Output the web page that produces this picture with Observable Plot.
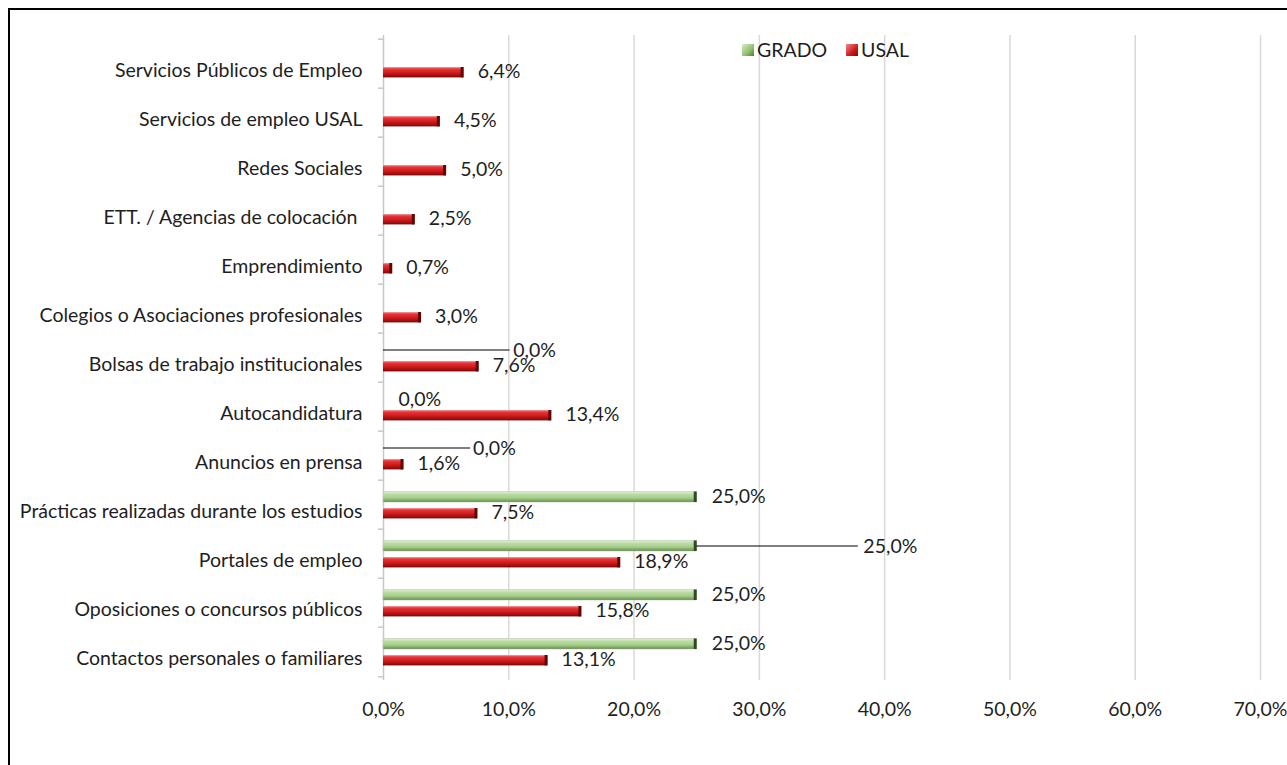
<!DOCTYPE html>
<html><head><meta charset="utf-8">
<script src="https://cdn.jsdelivr.net/npm/d3@7"></script>
<script src="https://cdn.jsdelivr.net/npm/@observablehq/plot@0.6"></script>
<style>
body{margin:0;background:#fff;overflow:hidden}
#wrap{position:relative;width:1287px;height:765px;overflow:hidden;font-family:Lato,sans-serif;background:#fff}
#frame{position:absolute;left:8px;top:8px;width:1400px;height:900px;border:2px solid #000;box-sizing:border-box}
#chart{position:absolute;left:0;top:0}
#legend{position:absolute;left:742px;top:38px;display:flex;align-items:center;font-size:19.5px;color:#1e1e1e;line-height:24px}
.sw{width:12px;height:12px;display:inline-block;margin-right:3px}
.item{display:flex;align-items:center;margin-right:19px}
</style></head><body>
<div id="wrap"><div id="frame"></div><div id="chart"></div>
<div id="legend">
  <div class="item"><span class="sw" style="background:linear-gradient(135deg,#d7ebc8,#8fbf6f 60%,#4f7a38)"></span>GRADO</div>
  <div class="item"><span class="sw" style="background:linear-gradient(135deg,#f08a8a,#d01818 60%,#7a0a0a)"></span>USAL</div>
</div>
</div>
<script>
const categories = [
  "Servicios Públicos de Empleo",
  "Servicios de empleo USAL",
  "Redes Sociales",
  "ETT. / Agencias de colocación\u00a0",
  "Emprendimiento",
  "Colegios o Asociaciones profesionales",
  "Bolsas de trabajo institucionales",
  "Autocandidatura",
  "Anuncios en prensa",
  "Prácticas realizadas durante los estudios",
  "Portales de empleo",
  "Oposiciones o concursos públicos",
  "Contactos personales o familiares"
];
const usal  = [6.4, 4.5, 5.0, 2.5, 0.7, 3.0, 7.6, 13.4, 1.6, 7.5, 18.9, 15.8, 13.1];
const grado = [null, null, null, null, null, null, 0, 0, 0, 25, 25, 25, 25];
const xTicks = [0, 10, 20, 30, 40, 50, 60, 70];

// Excel labels that were dragged away from their bars (label start, leader line end), in % units
const movedLabels = {
  "Bolsas de trabajo institucionales": {at: 10.35, line: 10.1},
  "Autocandidatura": {at: 1.2, line: null},
  "Anuncios en prensa": {at: 7.15, line: 6.95},
  "Portales de empleo": {at: 38.3, line: 37.9}
};

const fmt = d => d.toFixed(1).replace(".", ",") + "%";
const rows = categories.map((c, i) => ({cat: c, usal: usal[i], grado: grado[i]}));
const gradoRows = rows.filter(d => d.grado != null);
const gradoNormal = gradoRows.filter(d => !movedLabels[d.cat]);
const gradoMoved = gradoRows.filter(d => movedLabels[d.cat]).map(d => ({...d, ...movedLabels[d.cat]}));
const gradoLines = gradoMoved.filter(d => d.line != null);

const plotTop = 35, plotBottom = 680, H = 765;
const bw = (plotBottom - plotTop) / categories.length;

const chart = Plot.plot({
  width: 1287, height: H,
  marginLeft: 383, marginRight: 27, marginTop: plotTop, marginBottom: H - plotBottom,
  style: {fontFamily: "Lato, sans-serif", fontSize: "19.5px", color: "#1e1e1e", background: "transparent", overflow: "visible"},
  x: {domain: [0, 70], ticks: xTicks, tickFormat: fmt},
  y: {domain: categories, padding: 0},
  marks: [
    Plot.gridX(xTicks.slice(1), {stroke: "#d9d9d9", strokeOpacity: 1, strokeWidth: 1.5}),
    Plot.ruleX([0], {stroke: "#c8c8c8", strokeWidth: 1.5}),
    Plot.ruleY(categories, {y: d => d, x1: -0.4, x2: 0, dy: -bw / 2, stroke: "#c8c8c8", strokeWidth: 1.5}),
    Plot.ruleY(categories.slice(-1), {y: d => d, x1: -0.4, x2: 0, dy: bw / 2, stroke: "#c8c8c8", strokeWidth: 1.5}),
    Plot.barX(rows, {y: "cat", x: "usal", fill: "url(#gUsal)", insetTop: 28, insetBottom: 10.6}),
    Plot.tickX(rows, {y: "cat", x: "usal", stroke: "#5e0505", strokeWidth: 3, dx: -1.5, insetTop: 28, insetBottom: 10.6}),
    Plot.barX(gradoRows.filter(d => d.grado > 0), {y: "cat", x: "grado", fill: "url(#gGrado)", stroke: "#b9c9ae", strokeWidth: 0.6, insetTop: 11.5, insetBottom: 27}),
    Plot.tickX(gradoRows.filter(d => d.grado > 0), {y: "cat", x: "grado", stroke: "#2f4a22", strokeWidth: 3, dx: -1.5, insetTop: 11.5, insetBottom: 27}),
    Plot.text(rows, {y: "cat", x: "usal", text: d => fmt(d.usal), dx: 14, dy: 8, textAnchor: "start"}),
    Plot.text(gradoNormal, {y: "cat", x: "grado", text: d => fmt(d.grado), dx: 15, dy: -8, textAnchor: "start"}),
    Plot.ruleY(gradoLines, {y: "cat", x1: "grado", x2: "line", dy: -8, stroke: "#000", strokeWidth: 1.2}),
    Plot.text(gradoMoved, {y: "cat", x: "at", text: d => fmt(d.grado), dy: -7, textAnchor: "start"}),
    Plot.axisX({ticks: xTicks, tickSize: 0, tickPadding: 22, label: null, tickFormat: fmt}),
    Plot.axisY({tickSize: 0, tickPadding: 21, dy: 7, label: null})
  ]
});

const svg = d3.select(chart.tagName.toLowerCase() === "svg" ? chart : chart.querySelector("svg"));
const defs = svg.insert("defs", ":first-child");
const gU = defs.append("linearGradient").attr("id", "gUsal").attr("x1", 0).attr("y1", 0).attr("x2", 0).attr("y2", 1);
[[0, "#f3a3a3"], [0.18, "#e6383a"], [0.55, "#d11a1c"], [0.85, "#a00d0d"], [1, "#6e0808"]].forEach(([o, c]) => gU.append("stop").attr("offset", o).attr("stop-color", c));
const gG = defs.append("linearGradient").attr("id", "gGrado").attr("x1", 0).attr("y1", 0).attr("x2", 0).attr("y2", 1);
[[0, "#e4f1da"], [0.25, "#bddca6"], [0.6, "#a6cf8a"], [0.85, "#7ea864"], [1, "#56793f"]].forEach(([o, c]) => gG.append("stop").attr("offset", o).attr("stop-color", c));

document.getElementById("chart").appendChild(chart);
</script>
</body></html>
